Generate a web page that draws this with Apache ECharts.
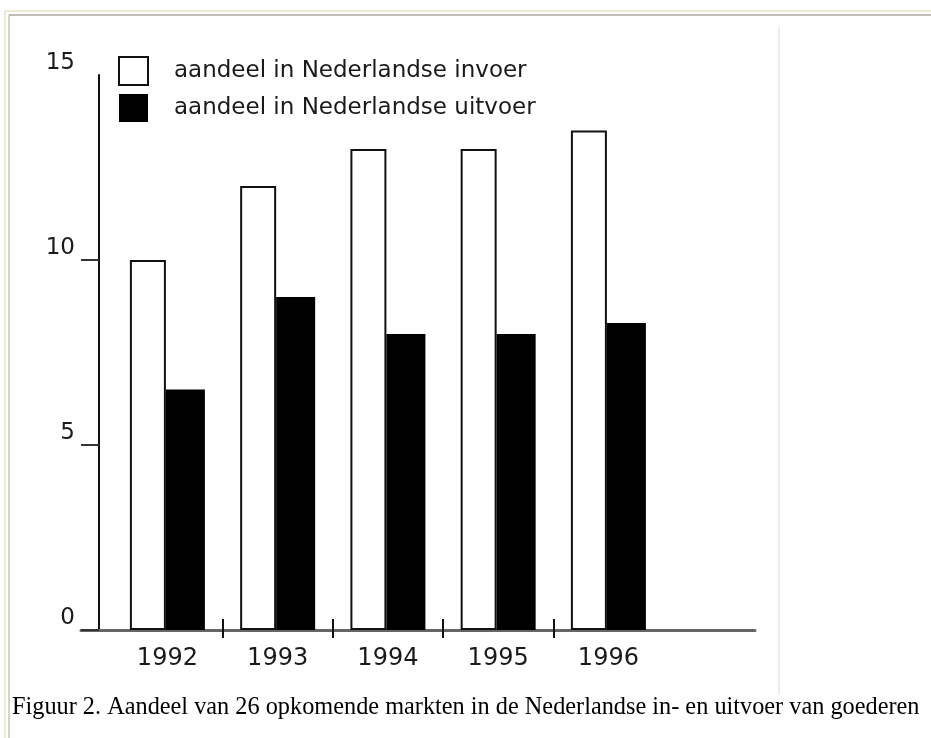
<!DOCTYPE html>
<html>
<head>
<meta charset="utf-8">
<title>Figuur 2</title>
<script src="https://cdn.jsdelivr.net/npm/echarts@6/dist/echarts.min.js"></script>
<style>
  html, body { margin: 0; padding: 0; background: #fff; }
  #main { width: 931px; height: 738px; }
</style>
</head>
<body>
<div id="main"></div>
<script>
// data
const years = [1992, 1993, 1994, 1995, 1996];
const invoer = [10, 12, 13, 13, 13.5];
const uitvoer = [6.5, 9, 8, 8, 8.3];
const yLabels = [0, 5, 10, 15];
const yTickMarks = [0, 5, 10];
const yearSplits = [1992.5, 1993.5, 1994.5, 1995.5];
const names = ["aandeel in Nederlandse invoer", "aandeel in Nederlandse uitvoer"];
const caption = "Figuur 2. Aandeel van 26 opkomende markten in de Nederlandse in- en uitvoer van goederen";

const sans = "DejaVu Sans";
const xMin = 1991.2163;
const xMax = 1997.3297;
const gridBox = { left: 81, right: 176, top: 75, bottom: 108 };

const option = {
  backgroundColor: "#fff",
  animation: false,
  legend: {
    orient: "vertical",
    left: 113,
    top: 51,
    icon: "rect",
    itemWidth: 29,
    itemHeight: 28,
    itemGap: 8,
    textStyle: {
      fontFamily: sans,
      fontSize: 23,
      color: "#1a1a1a",
      padding: [0, 0, 8, 21]
    },
    data: names
  },
  grid: [
    Object.assign({}, gridBox),
    Object.assign({}, gridBox)
  ],
  xAxis: [
    {
      // the long bottom line
      type: "value",
      gridIndex: 0,
      min: xMin,
      max: xMax,
      axisLine: { show: true, lineStyle: { color: "#666", width: 3 } },
      axisTick: { show: false },
      axisLabel: { show: false },
      splitLine: { show: false }
    },
    {
      // year labels and the separating ticks
      type: "value",
      gridIndex: 1,
      min: xMin,
      max: xMax,
      offset: -11,
      axisLine: { show: false },
      axisTick: {
        show: true,
        length: 19,
        customValues: yearSplits,
        lineStyle: { color: "#111", width: 2 }
      },
      axisLabel: {
        show: true,
        customValues: years,
        margin: 28,
        fontFamily: sans,
        fontSize: 24,
        color: "#1a1a1a",
        formatter: function (v) { return String(v); }
      },
      splitLine: { show: false }
    }
  ],
  yAxis: [
    {
      type: "value",
      gridIndex: 0,
      min: 0,
      max: 15,
      offset: -18,
      axisLine: { show: true, lineStyle: { color: "#111", width: 2 } },
      axisTick: {
        show: true,
        length: 18,
        customValues: yTickMarks,
        lineStyle: { color: "#333", width: 2 }
      },
      axisLabel: {
        show: true,
        customValues: yLabels,
        margin: 24,
        fontFamily: sans,
        fontSize: 23,
        color: "#1a1a1a",
        verticalAlign: "bottom"
      },
      splitLine: { show: false }
    },
    {
      type: "value",
      gridIndex: 1,
      min: 0,
      max: 15,
      show: false
    }
  ],
  series: [
    {
      name: names[0],
      type: "bar",
      xAxisIndex: 0,
      yAxisIndex: 0,
      barWidth: 36,
      barGap: "0%",
      itemStyle: { color: "#fff", borderColor: "#111", borderWidth: 2 },
      data: years.map(function (y, i) { return [y, invoer[i]]; })
    },
    {
      name: names[1],
      type: "bar",
      xAxisIndex: 0,
      yAxisIndex: 0,
      barWidth: 39,
      barGap: "0%",
      itemStyle: { color: "#000" },
      data: years.map(function (y, i) { return [y, uitvoer[i]]; })
    }
  ],
  graphic: [
    // window frame
    { type: "line", shape: { x1: 5, y1: 11, x2: 931, y2: 11 }, style: { stroke: "#ece9d8", lineWidth: 2 } },
    { type: "line", shape: { x1: 5, y1: 11, x2: 5, y2: 738 }, style: { stroke: "#ece9d8", lineWidth: 2 } },
    { type: "line", shape: { x1: 9, y1: 15, x2: 931, y2: 15 }, style: { stroke: "#a7a6a0", lineWidth: 1.5 } },
    { type: "line", shape: { x1: 9, y1: 15, x2: 9, y2: 738 }, style: { stroke: "#c8c6bc", lineWidth: 1.5 } },
    // right edge of the figure image
    { type: "line", shape: { x1: 779, y1: 27, x2: 779, y2: 695 }, style: { stroke: "#ececec", lineWidth: 2 } },
    {
      type: "text",
      left: 12,
      top: 696,
      style: {
        text: caption,
        fontFamily: "Liberation Serif",
        fontSize: 24.3,
        fill: "#000"
      }
    }
  ]
};

const myChart = echarts.init(document.getElementById("main"));
myChart.setOption(option);
</script>
</body>
</html>
